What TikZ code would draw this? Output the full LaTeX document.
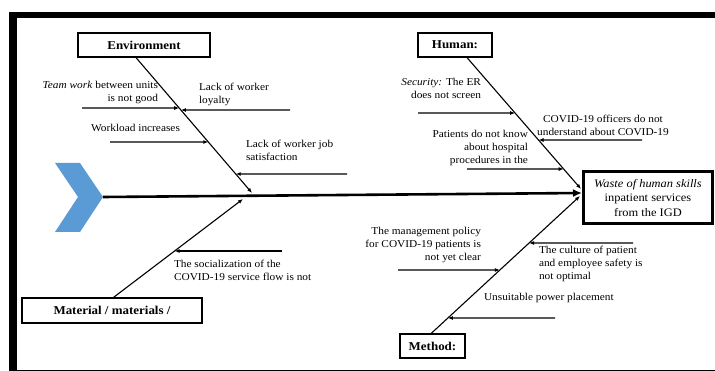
\documentclass[tikz,border=0pt]{standalone}
\usepackage{fontspec}
\setmainfont{Liberation Serif}[FakeStretch=1.08]
\usetikzlibrary{arrows.meta}
\definecolor{chevblue}{RGB}{91,155,213}
\begin{document}
\begin{tikzpicture}[x=1pt,y=-1pt,
  every node/.style={inner sep=0pt, outer sep=0pt},
  catbox/.style={draw, line width=1.2pt, font=\fontsize{12}{14}\selectfont\bfseries, minimum height=24pt},
  cause/.style={font=\fontsize{10.5}{13}\selectfont},
  bone/.style={line width=1.1pt, -{Latex[length=5pt,width=4pt]}},
  subarrow/.style={line width=1.1pt, -{Latex[length=5pt,width=4pt]}},
  spine/.style={line width=2.6pt, -{Latex[length=9pt,width=8pt]}}
]
\useasboundingbox (0,0) rectangle (715,371);
% frame
\fill (9,12) rectangle (715,18);
\fill (9,12) rectangle (17,371);
\draw[line width=1.2pt] (9,370.4) -- (715,370.4);

% chevron (head of spine)
\fill[chevblue] (55,163) -- (80,163) -- (103,197) -- (80,232) -- (55,232) -- (78,197) -- cycle;
\coordinate (tip) at (103,197);

% category boxes
\node[catbox, minimum width=132pt] (env) at (144,45) {Environment};
\node[catbox, minimum width=74pt] (hum) at (455,45) {Human:};
\node[catbox, minimum width=180pt, minimum height=25pt] (mat) at (112,310.5) {Material / materials /};
\node[catbox, minimum width=65pt] (met) at (432.5,346) {Method:};

% effect box
\node[draw, line width=3pt, minimum width=129pt, minimum height=52pt, align=center,
      font=\fontsize{11.5}{14.5}\selectfont] (eff) at (648,198)
  {\textit{Waste of human skills}\\inpatient services\\from the IGD};

% spine
\coordinate (spineEnd) at (582,193);
\draw[spine] (tip) -- (spineEnd);

% bones
\coordinate (envS) at (136,57.6);
\coordinate (envE) at (252,193);
\coordinate (humS) at (467,57.6);
\coordinate (humE) at (581,189);
\coordinate (matS) at (113,297.8);
\coordinate (matE) at (243,199);
\coordinate (metS) at (431,333.6);
\coordinate (metE) at (580,196);
\draw[bone] (envS) -- (envE);
\draw[bone] (humS) -- (humE);
\draw[bone] (matS) -- (matE);
\draw[bone] (metS) -- (metE);

% Environment causes
\coordinate (e1s) at (82,108);
\coordinate (e1e) at (intersection of envS--envE and 0,108--700,108);
\draw[subarrow] (e1s) -- (e1e);
\node[cause, align=right, anchor=east] (e1t) at (158,92.5) {\textit{Team work} between units\\is not good};

\coordinate (e2s) at (290,110);
\coordinate (e2e) at (intersection of envS--envE and 0,110--700,110);
\draw[subarrow] (e2s) -- (e2e);
\node[cause, align=left, anchor=west] (e2t) at (199,94.5) {Lack of worker\\loyalty};

\coordinate (e3s) at (110,142);
\coordinate (e3e) at (intersection of envS--envE and 0,142--700,142);
\draw[subarrow] (e3s) -- (e3e);
\node[cause] (e3t) at (135.5,128) {Workload increases};

\coordinate (e4s) at (347,174);
\coordinate (e4e) at (intersection of envS--envE and 0,174--700,174);
\draw[subarrow] (e4s) -- (e4e);
\node[cause, align=left, anchor=west] (e4t) at (246,150) {Lack of worker job\\satisfaction};

% Human causes
\coordinate (h1s) at (418,113);
\coordinate (h1e) at (intersection of humS--humE and 0,113--700,113);
\draw[subarrow] (h1s) -- (h1e);
\node[cause, align=right, anchor=east] (h1t) at (481,88) {\textit{Security:} The ER\\does not screen};

\coordinate (h2s) at (642,140);
\coordinate (h2e) at (intersection of humS--humE and 0,140--700,140);
\draw[subarrow] (h2s) -- (h2e);
\node[cause, align=center] (h2t) at (603,125) {COVID-19 officers do not\\understand about COVID-19};

\coordinate (h3s) at (467,169);
\coordinate (h3e) at (intersection of humS--humE and 0,169--700,169);
\draw[subarrow] (h3s) -- (h3e);
\node[cause, align=right, anchor=east] (h3t) at (528,147.5) {Patients do not know\\about hospital\\procedures in the};

% Material causes
\coordinate (a1s) at (282,251);
\coordinate (a1e) at (intersection of matS--matE and 0,251--700,251);
\draw[subarrow] (a1s) -- (a1e);
\node[cause, align=left, anchor=west] (a1t) at (174,270) {The socialization of the\\COVID-19 service flow is not};

% Method causes
\coordinate (m1s) at (398,270);
\coordinate (m1e) at (intersection of metS--metE and 0,270--700,270);
\draw[subarrow] (m1s) -- (m1e);
\node[cause, align=right, anchor=east] (m1t) at (481,245) {The management policy\\for COVID-19 patients is\\not yet clear};

\coordinate (m2s) at (633,243);
\coordinate (m2e) at (intersection of metS--metE and 0,243--700,243);
\draw[subarrow] (m2s) -- (m2e);
\node[cause, align=left, anchor=west] (m2t) at (539,264) {The culture of patient\\and employee safety is\\not optimal};

\coordinate (m3s) at (555,318);
\coordinate (m3e) at (intersection of metS--metE and 0,318--700,318);
\draw[subarrow] (m3s) -- (m3e);
\node[cause, anchor=west] (m3t) at (484,298) {Unsuitable power placement};
\end{tikzpicture}
\end{document}
